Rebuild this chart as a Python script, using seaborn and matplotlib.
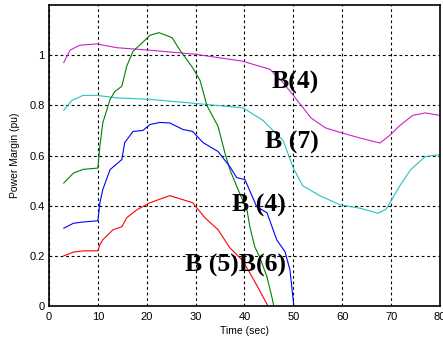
import matplotlib
matplotlib.use("Agg")
import matplotlib.pyplot as plt
import seaborn as sns
import pandas as pd

# ---- data ----
t_mag = [3, 4.3, 6.3, 9.8, 13.9, 20.7, 29.9, 39.7, 41, 45.2, 47.5, 50, 53.6, 56.6, 60, 63.6, 67.7, 69.7, 71.8, 74.4, 77, 80]
v_mag = [0.97, 1.02, 1.04, 1.045, 1.03, 1.02, 1.004, 0.976, 0.968, 0.944, 0.9, 0.84, 0.75, 0.71, 0.69, 0.67, 0.65, 0.68, 0.72, 0.76, 0.77, 0.76]

t_cya = [3, 4.7, 7, 9.8, 13.9, 20.7, 29.9, 39.7, 43.8, 47.9, 50, 51.9, 55.4, 59.5, 63.6, 67.3, 68.9, 69.7, 71.8, 74, 77, 80]
v_cya = [0.78, 0.82, 0.84, 0.84, 0.83, 0.824, 0.808, 0.79, 0.74, 0.66, 0.55, 0.48, 0.44, 0.404, 0.39, 0.37, 0.385, 0.41, 0.48, 0.544, 0.596, 0.604]

t_grn = [3, 5, 7, 10, 10.4, 11, 12.5, 13.5, 14.9, 15.9, 17.2, 19.2, 20.7, 22.5, 25.2, 26.8, 29.4, 30.9, 32.3, 34.6, 36, 37, 39, 40.5, 41.1, 42.1, 43.1, 44.6, 45.6, 46]
v_grn = [0.49, 0.53, 0.545, 0.55, 0.636, 0.73, 0.824, 0.856, 0.876, 0.956, 1.016, 1.052, 1.08, 1.09, 1.07, 1.02, 0.95, 0.90, 0.80, 0.716, 0.61, 0.544, 0.45, 0.384, 0.316, 0.236, 0.196, 0.116, 0.036, 0.0]

t_blu = [3, 5, 7, 10, 10.4, 11, 12.5, 14.9, 15.5, 17.2, 19.2, 20.7, 22.7, 24.7, 27.4, 29.4, 31.5, 34.6, 37, 38.4, 40.1, 42.5, 44.6, 46.6, 48.3, 49.3, 50.1]
v_blu = [0.31, 0.33, 0.335, 0.34, 0.41, 0.464, 0.544, 0.584, 0.652, 0.696, 0.70, 0.724, 0.732, 0.73, 0.704, 0.696, 0.652, 0.616, 0.556, 0.512, 0.504, 0.396, 0.372, 0.264, 0.216, 0.144, 0.0]

t_red = [3, 5, 7, 10, 10.4, 11, 13.1, 14.9, 15.9, 18, 20.7, 24.7, 29.4, 31.9, 34.6, 37, 39.5, 41.1, 42.7, 44.8]
v_red = [0.2, 0.215, 0.22, 0.22, 0.244, 0.264, 0.304, 0.316, 0.352, 0.384, 0.412, 0.44, 0.412, 0.352, 0.304, 0.232, 0.184, 0.132, 0.076, 0.0]

x_ticks = [0, 10, 20, 30, 40, 50, 60, 70, 80]
y_ticks = [0, 0.2, 0.4, 0.6, 0.8, 1.0]
y_tick_labels = ["0", "0.2", "0.4", "0.6", "0.8", "1"]

labels = ["B(4)", "B (7)", "B (4)", "B (5)B(6)"]
label_x = [45.6, 44.2, 37.4, 27.8]
label_y = [0.892, 0.652, 0.4, 0.16]

series = [
    (t_mag, v_mag, "#cc22cc"),
    (t_cya, v_cya, "#22c4c4"),
    (t_grn, v_grn, "#008000"),
    (t_blu, v_blu, "#0000ff"),
    (t_red, v_red, "#ff0000"),
]

# ---- plot ----
sns.set_style("white")
plt.rcParams["font.family"] = ["Liberation Sans", "DejaVu Sans"]
plt.rcParams["text.color"] = "black"
plt.rcParams["axes.labelcolor"] = "black"

fig = plt.figure(figsize=(4.43, 3.39), dpi=100)
ax = fig.add_axes([0.1106, 0.0973, 0.8826, 0.8877])

for tx, vy, col in series:
    df = pd.DataFrame({"t": tx, "v": vy})
    sns.lineplot(data=df, x="t", y="v", ax=ax, color=col, linewidth=0.8,
                 estimator=None, sort=False)

ax.set_xlim(0, 80)
ax.set_ylim(0, 1.2)
ax.set_xticks(x_ticks)
ax.set_xticklabels([str(v) for v in x_ticks])
ax.set_yticks(y_ticks)
ax.set_yticklabels(y_tick_labels)
ax.tick_params(direction="in", length=3, width=0.8, labelsize=8, colors="black")
ax.tick_params(axis="x", pad=4)
ax.tick_params(axis="y", pad=3)
ax.grid(True, color="black", linestyle=(0, (2.5, 2.5)), linewidth=0.8)
for s in ax.spines.values():
    s.set_visible(True)
    s.set_color("black")
    s.set_linewidth(1.2)

ax.set_xlabel("Time (sec)", fontsize=7.5, labelpad=3)
ax.set_ylabel("Power Margin (pu)", fontsize=7.5, labelpad=7)

for txt, lx, ly in zip(labels, label_x, label_y):
    ax.text(lx, ly, txt, fontsize=18.5, fontweight="bold", color="black",
            family=["Liberation Serif", "DejaVu Serif"], ha="left", va="center")

fig.savefig("out.png", dpi=100)
